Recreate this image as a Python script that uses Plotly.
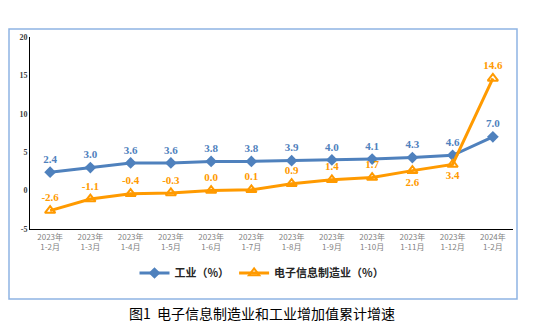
import plotly.graph_objects as go

categories = ["2023年<br>1-2月", "2023年<br>1-3月", "2023年<br>1-4月", "2023年<br>1-5月",
              "2023年<br>1-6月", "2023年<br>1-7月", "2023年<br>1-8月", "2023年<br>1-9月",
              "2023年<br>1-10月", "2023年<br>1-11月", "2023年<br>1-12月", "2024年<br>1-2月"]
industry = [2.4, 3.0, 3.6, 3.6, 3.8, 3.8, 3.9, 4.0, 4.1, 4.3, 4.6, 7.0]
electronics = [-2.6, -1.1, -0.4, -0.3, 0.0, 0.1, 0.9, 1.4, 1.7, 2.6, 3.4, 14.6]
elec_pos = ["top center"] * 9 + ["bottom center", "bottom center", "top center"]

blue = "#4F81BD"
orange = "#FF9A00"

fig = go.Figure()
fig.add_trace(go.Scatter(
    x=categories, y=industry, name="<b>工业（%）</b>", mode="lines+markers+text",
    line=dict(color=blue, width=3),
    marker=dict(symbol="diamond", size=9, color=blue),
    text=[f"<b>{v:.1f}</b>" for v in industry], textposition="top center",
    textfont=dict(family="Liberation Serif", size=11, color=blue),
))
fig.add_trace(go.Scatter(
    x=categories, y=electronics, name="<b>电子信息制造业（%）</b>", mode="lines+markers+text",
    line=dict(color=orange, width=3),
    marker=dict(symbol="triangle-up-open", size=9, color=orange, line=dict(width=2, color=orange)),
    text=[f"<b>{v:.1f}</b>" for v in electronics], textposition=elec_pos,
    textfont=dict(family="Liberation Serif", size=11, color=orange),
))

L, R, T, B = 30, 30, 37, 99
W, H = 543, 328
pw, ph = W - L - R, H - T - B

def px_x(x):
    return (x - L) / pw

def px_y(y):
    return (H - B - y) / ph

fig.update_layout(
    width=W, height=H,
    margin=dict(l=L, r=R, t=T, b=B),
    plot_bgcolor="white", paper_bgcolor="white",
    showlegend=True,
    legend=dict(orientation="h", x=px_x(262), xanchor="center", y=px_y(273), yanchor="middle",
                font=dict(family="Noto Sans CJK SC", size=11, color="#262626"),
                itemwidth=30, bgcolor="rgba(0,0,0,0)"),
    xaxis=dict(type="category", showgrid=False, showline=True, linecolor="black", linewidth=1,
               ticks="", tickfont=dict(family="Noto Sans CJK SC", size=8, color="#7F7F7F"),
               range=[-0.5, 11.5], tickangle=0),
    yaxis=dict(range=[-5, 20], tickvals=[-5, 0, 5, 10, 15, 20],
               ticktext=["<b>-5</b>", "<b>0</b>", "<b>5</b>", "<b>10</b>", "<b>15</b>", "<b>20</b>"],
               showgrid=False, zeroline=False,
               showline=True, linecolor="black", linewidth=1, ticks="",
               tickfont=dict(family="Liberation Serif", size=8, color="#404040")),
    shapes=[dict(type="rect", xref="paper", yref="paper",
                 x0=px_x(9), x1=px_x(517), y0=px_y(299), y1=px_y(29),
                 line=dict(color="#8EB4E3", width=1.5), layer="below")],
    annotations=[dict(text="图1  电子信息制造业和工业增加值累计增速", xref="paper", yref="paper",
                      x=px_x(262), y=px_y(313), xanchor="center", yanchor="middle",
                      showarrow=False,
                      font=dict(family="Noto Sans CJK SC", size=14, color="black"))],
)

fig.write_html("out.html")
